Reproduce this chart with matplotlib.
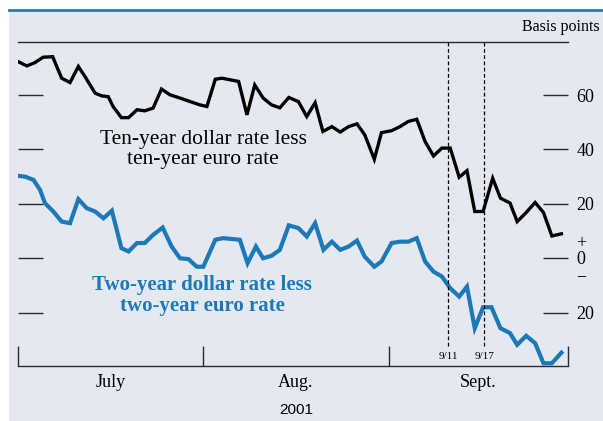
import matplotlib
matplotlib.use("Agg")
import matplotlib.pyplot as plt
from matplotlib.patches import Rectangle
from matplotlib.lines import Line2D

plt.rcParams['font.family'] = ['Liberation Serif', 'DejaVu Serif']

# x values are days counted from 1 July 2001
ten_days = [0, 1.5, 2.8, 4.2, 5.8, 7.3, 8.7, 10.1, 11.2, 12.9, 14.0, 15.1, 15.9, 17.3,
            18.5, 19.9, 21.2, 22.6, 24.0, 25.4, 27.1, 28.8, 30.4, 31.6, 33.0, 34.1,
            35.5, 36.9, 38.3, 39.6, 41.0, 42.4, 43.8, 45.3, 46.9, 48.3, 49.7, 51.0,
            52.5, 53.9, 55.3, 56.7, 58.0, 59.6, 60.8, 62.5, 63.9, 65.3, 66.7, 68.1,
            69.5, 70.9, 72.3, 73.8, 75.1, 76.4, 77.8, 79.4, 80.7, 82.3, 83.5, 85.0,
            86.5, 87.9, 89.3, 90.9]
ten_spread = [72.3, 70.7, 71.9, 73.9, 74.1, 66.2, 64.6, 70.5, 66.8, 60.7, 59.7, 59.4,
              55.8, 51.7, 51.7, 54.6, 54.2, 55.2, 62.2, 60.1, 58.9, 57.6, 56.4, 55.8,
              65.8, 66.2, 65.6, 65.0, 52.7, 63.7, 58.9, 56.4, 55.3, 59.1, 57.6, 52.1,
              57.2, 46.6, 48.4, 46.4, 48.4, 49.4, 45.4, 36.4, 46.2, 46.9, 48.4, 50.3,
              51.1, 42.9, 37.6, 40.5, 40.5, 29.8, 32.2, 17.2, 17.2, 29.4, 22.1, 20.3,
              13.5, 16.8, 20.5, 16.8, 8.2, 9.0]

two_days = [0, 1.2, 2.6, 3.7, 4.5, 5.9, 7.3, 8.7, 10.1, 11.5, 12.9, 14.3, 15.7, 17.3,
            18.5, 19.9, 21.2, 22.6, 24.2, 25.7, 27.1, 28.5, 29.9, 31.0, 33.0, 34.3,
            37.1, 38.4, 39.8, 41.0, 42.4, 43.8, 45.3, 46.9, 48.3, 49.7, 51.1, 52.5,
            53.9, 55.3, 56.7, 58.0, 59.6, 60.8, 62.5, 63.9, 65.3, 66.7, 68.1, 69.5,
            70.9, 72.3, 73.8, 75.1, 76.4, 77.8, 79.2, 80.7, 82.3, 83.5, 85.0, 86.5,
            87.9, 89.3, 90.9]
two_spread = [30.3, 30.0, 28.8, 25.1, 20.3, 17.2, 13.5, 12.9, 21.7, 18.4, 17.2, 14.7,
              17.5, 3.7, 2.5, 5.6, 5.6, 8.6, 11.3, 4.3, 0.0, -0.3, -3.1, -3.1, 6.8,
              7.4, 6.8, -1.8, 4.3, 0.0, 0.9, 3.1, 12.1, 11.1, 8.0, 12.9, 3.1, 6.1,
              3.1, 4.3, 6.5, 0.6, -3.1, -1.2, 5.6, 6.1, 6.1, 7.4, -1.2, -4.9, -6.7,
              -11.0, -14.1, -10.4, -25.7, -18.0, -18.0, -25.7, -27.5, -31.8, -28.5,
              -31.2, -38.6, -38.6, -34.7]

month_starts = [0, 31, 62, 92]
month_mids = [15.5, 46.5, 77]
month_labels = ["July", "Aug.", "Sept."]
event_days = [72, 78]
event_labels = ["9/11", "9/17"]
ytick_values = [-20, 0, 20, 40, 60]
ytick_labels = ["20", "+\n0\n\u2212", "20", "40", "60"]

BLUE = "#1c78b6"
PANEL = "#e4e8f1"
DARK = "#2b2b2b"

fig = plt.figure(figsize=(6.03, 4.21), dpi=100)
fig.patch.set_facecolor("white")
fig.patches.append(Rectangle((9 / 603, 0), 1, 1 - 9 / 421, transform=fig.transFigure,
                             facecolor=PANEL, edgecolor="none", zorder=-10))
fig.lines.append(Line2D([9 / 603, 1], [1 - 10 / 421] * 2, transform=fig.transFigure,
                        color="#2a78b8", linewidth=2, zorder=-5))

ax = fig.add_axes([18 / 603, 1 - 366 / 421, 550 / 603, 324 / 421])
ax.patch.set_visible(False)

ax.plot(ten_days, ten_spread, color="black", linewidth=2.4, solid_joinstyle="miter")
ax.plot(two_days, two_spread, color=BLUE, linewidth=3.0, solid_joinstyle="miter")

for d, lab in zip(event_days, event_labels):
    ax.axvline(d, ymin=0.062, ymax=1, color="black", linewidth=0.9,
               linestyle=(0, (3, 2)))
    ax.text(d, -36.0, lab, ha="center", va="center", fontsize=8)

ax.set_xlim(0, 92)
ax.set_ylim(-39.6, 79.5)

ax.spines["left"].set_visible(False)
ax.spines["right"].set_visible(False)
for s in ("top", "bottom"):
    ax.spines[s].set_color(DARK)
    ax.spines[s].set_linewidth(1.0)

ax.set_xticks(month_starts)
ax.set_xticklabels([])
ax.set_xticks(month_mids, minor=True)
ax.set_xticklabels(month_labels, minor=True, fontsize=13)
ax.tick_params(axis="x", which="major", direction="in", length=14.5, width=1, color=DARK)
ax.tick_params(axis="x", which="minor", length=0, pad=6)

ax.set_yticks(ytick_values)
ax.set_yticklabels(ytick_labels, fontsize=13, linespacing=0.95)
ax.tick_params(axis="y", which="major", left=True, right=True, labelleft=False,
               labelright=True, direction="in", length=18, width=1, color=DARK, pad=6)

ax.text(31, 40, "Ten-year dollar rate less\nten-year euro rate", ha="center",
        va="center", fontsize=15.5, linespacing=1.05)
ax.text(30.8, -13.8, "Two-year dollar rate less\ntwo-year euro rate", ha="center",
        va="center", fontsize=15, fontweight="bold", color=BLUE, linespacing=1.05)

fig.text(600 / 603, 1 - 27 / 421, "Basis points", ha="right", va="center", fontsize=11.5)
fig.text(296 / 603, 1 - 410 / 421, "2001", ha="center", va="center", fontsize=11,
         family=["Liberation Sans", "DejaVu Sans"])

fig.savefig("out.png", dpi=100)
